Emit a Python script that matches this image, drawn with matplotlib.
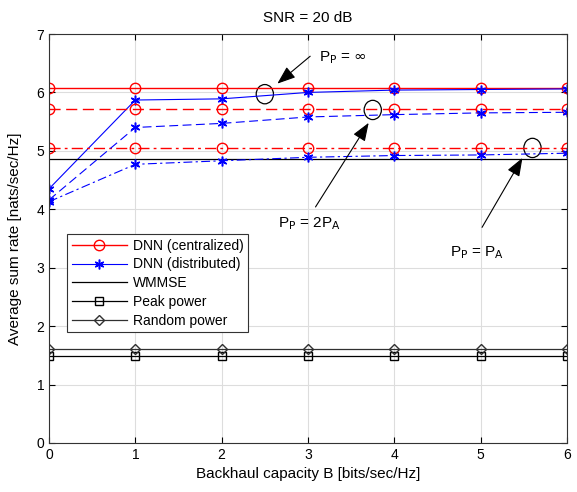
import numpy as np
import matplotlib.pyplot as plt
from matplotlib.patches import Ellipse

plt.rcParams['font.family'] = ['Liberation Sans', 'DejaVu Sans']

backhaul = [0, 1, 2, 3, 4, 5, 6]

# DNN (centralized) for P_P = inf, 2P_A, P_A
cent_inf = [6.07, 6.07, 6.07, 6.07, 6.07, 6.07, 6.07]
cent_2pa = [5.71, 5.71, 5.71, 5.71, 5.71, 5.71, 5.71]
cent_pa = [5.05, 5.05, 5.05, 5.05, 5.05, 5.05, 5.05]

# DNN (distributed)
dist_inf = [4.35, 5.87, 5.89, 6.00, 6.04, 6.05, 6.06]
dist_2pa = [4.16, 5.40, 5.47, 5.58, 5.62, 5.65, 5.66]
dist_pa = [4.13, 4.77, 4.83, 4.89, 4.92, 4.93, 4.96]

wmmse = [4.86, 4.86, 4.86, 4.86, 4.86, 4.86, 4.86]
peak_power = [1.49, 1.49, 1.49, 1.49, 1.49, 1.49, 1.49]
random_power = [1.61, 1.61, 1.61, 1.61, 1.61, 1.61, 1.61]

fig = plt.figure(figsize=(5.77, 4.92), dpi=100)
ax = fig.add_axes([49/577, 1-443/492, 518/577, 409/492])

mk_r = dict(color='red', marker='o', markerfacecolor='none', markersize=7.5, linewidth=1)
mk_b = dict(color='blue', marker=(6, 2, 0), markersize=7, markeredgewidth=1.1, linewidth=0.8)

ax.plot(backhaul, cent_inf, '-', label='DNN (centralized)', **mk_r)
ax.plot(backhaul, dist_inf, '-', label='DNN (distributed)', **mk_b)
ax.plot(backhaul, wmmse, 'k-', linewidth=0.9, label='WMMSE')
ax.plot(backhaul, peak_power, 'k-', marker='s', markerfacecolor='none',
        markersize=5.5, linewidth=0.9, label='Peak power')
ax.plot(backhaul, random_power, color='#303030', marker='D', markerfacecolor='none',
        markersize=5.5, linewidth=0.9, label='Random power')

ax.plot(backhaul, cent_2pa, linestyle=(0, (8, 4)), **mk_r)
ax.plot(backhaul, cent_pa, linestyle=(0, (8, 3, 2, 3)), **mk_r)
ax.plot(backhaul, dist_2pa, linestyle=(0, (8, 4)), **mk_b)
ax.plot(backhaul, dist_pa, linestyle=(0, (8, 3, 2, 3)), **mk_b)

ax.set_xlim(0, 6)
ax.set_ylim(0, 7)
ax.set_xticks(range(7))
ax.set_yticks(range(8))
ax.grid(True, color='#dddddd', linewidth=0.8)
ax.set_axisbelow(True)
ax.tick_params(direction='in', top=True, right=True, labelsize=10, length=4)
for s in ax.spines.values():
    s.set_color('#333333')
    s.set_linewidth(0.8)

ax.set_xlabel('Backhaul capacity B [bits/sec/Hz]', fontsize=11, labelpad=4)
ax.set_ylabel('Average sum rate [nats/sec/Hz]', fontsize=11, labelpad=10)
ax.set_title('SNR = 20 dB', fontsize=11, pad=9)

# ellipses marking each curve group, with arrows from the labels
for (cx, cy) in [(2.5, 5.97), (3.75, 5.70), (5.6, 5.05)]:
    ax.add_patch(Ellipse((cx, cy), 0.2, 0.33, fill=False, edgecolor='black', linewidth=0.9))

arrow = dict(arrowstyle='-|>,head_length=0.8,head_width=0.3', color='black',
             linewidth=0.8, mutation_scale=14)
ax.annotate('', xy=(2.62, 6.12), xytext=(3.05, 6.65), arrowprops=arrow)
ax.text(3.13, 6.6, r'P$_\mathrm{P}$ = $\infty$', fontsize=11, va='center')
ax.annotate('', xy=(3.72, 5.52), xytext=(3.07, 4.0), arrowprops=arrow)
ax.text(2.65, 3.75, r'P$_\mathrm{P}$ = 2P$_\mathrm{A}$', fontsize=11, va='center')
ax.annotate('', xy=(5.5, 4.92), xytext=(5.0, 3.65), arrowprops=arrow)
ax.text(4.65, 3.25, r'P$_\mathrm{P}$ = P$_\mathrm{A}$', fontsize=11, va='center')

leg = ax.legend(loc='upper left', bbox_to_anchor=(0.022, 0.527), fontsize=10,
                fancybox=False, edgecolor='#333333', framealpha=1,
                handlelength=4, borderpad=0.3, labelspacing=0.35, handletextpad=0.4)
leg.get_frame().set_linewidth(0.8)

fig.savefig('out.png', dpi=100)
